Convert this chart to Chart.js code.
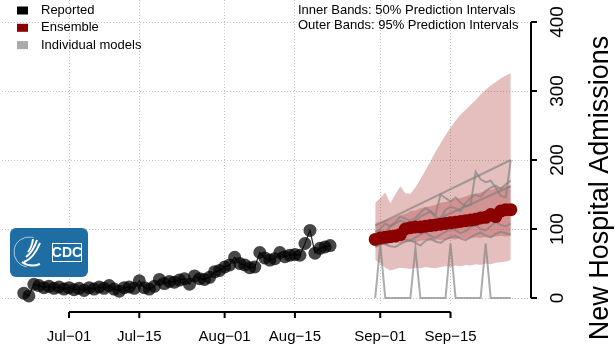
<!DOCTYPE html>
<html>
<head>
<meta charset="utf-8">
<script src="https://cdn.jsdelivr.net/npm/chart.js@4.4.1/dist/chart.umd.min.js"></script>
<style>
  html, body { margin: 0; padding: 0; background: #fff; }
  canvas { display: block; }
</style>
</head>
<body>
<canvas id="chart" width="616" height="351"></canvas>
<script>
var N = null;

// reported new hospital admissions, one value per day from Jun-22
var reportedStart = '2021-06-22';
var reported = [
  7, 3, 20, 18, 15, 17, 14, 16, 13,
  15, 12, 14, 11, 15, 13, 16, 14, 18, 13, 10, 15, 16, 14, 25, 15, 13, 17, 27, 21,
  24, 23, 26, 28, 20, 32, 28, 27, 30, 38, 40,
  45, 48, 59, 50, 48, 44, 45, 66, 58, 55, 57, 66, 60, 62, 63, 62, 79, 98, 65, 72, 74, 76
];

// forecast, one value per day from Aug-31
var forecastStart = '2021-08-31';
var ensemble = [85, 87, 88, 89, 90, 92, 100, 102, 103, 103, 104, 105, 106, 107,
  108, 109, 110, 111, 112, 113, 114, 116, 117, 121, 118, 126, 128, 128];
var lower95 = [55, 50, 44, 40, 42, 44, 43, 42, 44, 43, 45, 44, 43, 45,
  46, 45, 47, 46, 48, 47, 49, 48, 50, 49, 51, 52, 53, 55];
var upper95 = [138, 145, 153, 137, 150, 162, 152, 151, 160, 172, 185, 198, 212, 224,
  236, 247, 257, 266, 273, 280, 287, 295, 302, 308, 313, 318, 322, 326];
var lower50 = [76, 78, 77, 79, 80, 79, 81, 82, 81, 83, 84, 83, 85, 84,
  85, 86, 85, 87, 86, 87, 88, 87, 89, 88, 89, 90, 89, 90];
var upper50 = [108, 111, 113, 114, 118, 120, 122, 126, 127, 130, 132, 133, 135, 138,
  139, 141, 144, 145, 147, 150, 151, 153, 156, 157, 159, 161, 162, 163];

// individual model forecasts
var modelA = [105, N, N, N, N, N, N, N, N, N, N, N, N, N, N, N, N, N, N, N, N, N, N, N, N, N, N, 200];
var modelB = [0, 78, 0, 0, 0, 0, 0, 0, 72, 0, 0, 0, 0, 0, 0, 79, 0, 0, 0, 0, 0, 0, 79, 0, 0, 0, 0, 0];
var modelC = [74, N, N, N, N, N, N, N, N, N, N, N, N, N, N, N, N, N, N, N, N, N, N, N, N, N, N, 162];
var modelD = [96, 100, 108, 104, 110, 118, 115, 112, 116, 124, 130, 126, 120, 150,
  145, 140, 146, 138, 133, 135, 183, 172, 168, 170, 160, 148, 146, 200];
var modelE = [92, 98, 95, 104, 108, 112, 110, 106, 112, 118, 122, 125, 118, 115,
  128, 132, 130, 126, 138, 145, 150, 147, 155, 160, 163, 158, 165, 170];
var modelF = [88, 90, 92, 93, 95, 97, 98, 100, 102, 103, 105, 107, 108, 110,
  112, 113, 115, 117, 118, 120, 122, 124, 125, 127, 129, 130, 132, 134];
var modelG = [80, 84, 82, 86, 90, 88, 85, 83, 88, 92, 95, 90, 87, 92,
  96, 100, 98, 94, 97, 103, 105, 100, 98, 104, 110, 106, 104, 108];
var modelH = [76, 80, 78, 75, 74, 78, 82, 84, 80, 76, 83, 86, 82, 80,
  85, 88, 90, 86, 84, 88, 92, 95, 90, 88, 93, 96, 94, 92];
var models = [modelA, modelB, modelC, modelD, modelE, modelF, modelG, modelH];

var tickDates = ['2021-07-01', '2021-07-15', '2021-08-01', '2021-08-15', '2021-09-01', '2021-09-15'];
var tickLabels = ['Jul\u221201', 'Jul\u221215', 'Aug\u221201', 'Aug\u221215', 'Sep\u221201', 'Sep\u221215'];
var yTicks = [0, 100, 200, 300, 400];

var FONT = '"Liberation Sans", Arial, Helvetica, sans-serif';

function dayNum(s) {
  return (Date.parse(s) - Date.parse('2021-07-01')) / 86400000;
}
function toPoints(start, values) {
  var d0 = dayNum(start);
  return values.map(function (v, i) { return { x: d0 + i, y: v }; });
}
var tickDays = tickDates.map(dayNum);

var datasets = [];
datasets.push({ data: toPoints(forecastStart, lower95), fill: false, borderWidth: 0, borderColor: 'transparent', pointRadius: 0, order: 20 });
datasets.push({ data: toPoints(forecastStart, upper95), fill: '-1', backgroundColor: 'rgba(170,40,40,0.3)', borderWidth: 0, borderColor: 'transparent', pointRadius: 0, order: 19 });
datasets.push({ data: toPoints(forecastStart, lower50), fill: false, borderWidth: 0, borderColor: 'transparent', pointRadius: 0, order: 18 });
datasets.push({ data: toPoints(forecastStart, upper50), fill: '-1', backgroundColor: 'rgba(170,40,40,0.3)', borderWidth: 0, borderColor: 'transparent', pointRadius: 0, order: 17 });
models.forEach(function (m) {
  datasets.push({ data: toPoints(forecastStart, m), fill: false, spanGaps: true, borderColor: 'rgba(128,128,128,0.65)', borderWidth: 2, pointRadius: 0, order: 10 });
});
datasets.push({ data: toPoints(reportedStart, reported), fill: false, borderColor: 'rgba(0,0,0,0.85)', borderWidth: 1.2,
  pointRadius: 6.5, pointBackgroundColor: 'rgba(0,0,0,0.72)', pointBorderWidth: 0, order: 2 });
datasets.push({ data: toPoints(forecastStart, ensemble), fill: false, showLine: false, borderColor: '#8b0000',
  pointRadius: 6.5, pointBackgroundColor: '#8b0000', pointBorderWidth: 0, order: 1 });

// R style axes, legend, notes and logo
var rAxes = {
  id: 'rAxes',
  afterDraw: function (chart) {
    var ctx = chart.ctx, xs = chart.scales.x, ys = chart.scales.y;
    ctx.save();
    ctx.strokeStyle = '#000';
    ctx.fillStyle = '#000';
    ctx.lineWidth = 2;

    // x axis
    var axY = 312;
    ctx.beginPath();
    ctx.moveTo(xs.getPixelForValue(tickDays[0]), axY);
    ctx.lineTo(xs.getPixelForValue(tickDays[tickDays.length - 1]), axY);
    tickDays.forEach(function (d) {
      var px = xs.getPixelForValue(d);
      ctx.moveTo(px, axY);
      ctx.lineTo(px, axY + 6);
    });
    ctx.stroke();
    ctx.font = '15px ' + FONT;
    ctx.textAlign = 'center';
    ctx.textBaseline = 'alphabetic';
    tickDays.forEach(function (d, i) {
      ctx.fillText(tickLabels[i], xs.getPixelForValue(d), 341);
    });

    // y axis on the right
    var axX = 531;
    ctx.beginPath();
    ctx.moveTo(axX, ys.getPixelForValue(yTicks[0]));
    ctx.lineTo(axX, ys.getPixelForValue(yTicks[yTicks.length - 1]));
    yTicks.forEach(function (v) {
      var py = ys.getPixelForValue(v);
      ctx.moveTo(axX, py);
      ctx.lineTo(axX + 6, py);
    });
    ctx.stroke();
    ctx.font = '19px ' + FONT;
    yTicks.forEach(function (v) {
      ctx.save();
      ctx.translate(563, ys.getPixelForValue(v));
      ctx.rotate(-Math.PI / 2);
      ctx.fillText(String(v), 0, 0);
      ctx.restore();
    });
    ctx.save();
    ctx.font = '27px ' + FONT;
    ctx.translate(608, 188);
    ctx.rotate(-Math.PI / 2);
    ctx.fillText('New Hospital Admissions', 0, 0);
    ctx.restore();

    // legend
    var legend = [['Reported', '#000'], ['Ensemble', '#8b0000'], ['Individual models', '#aaaaaa']];
    ctx.font = '13px ' + FONT;
    ctx.textAlign = 'left';
    ctx.textBaseline = 'middle';
    legend.forEach(function (item, i) {
      var cy = 10.5 + i * 17.3;
      ctx.fillStyle = item[1];
      ctx.fillRect(17, cy - 4, 11, 8);
      ctx.fillStyle = '#000';
      ctx.fillText(item[0], 41, cy);
    });
    ctx.fillText('Inner Bands: 50% Prediction Intervals', 298, 10);
    ctx.fillText('Outer Bands: 95% Prediction Intervals', 298, 25);

    // CDC logo
    var lx = 10, ly = 228, lw = 78, lh = 49, r = 6;
    ctx.fillStyle = '#1f6ea3';
    ctx.beginPath();
    ctx.moveTo(lx + r, ly);
    ctx.arcTo(lx + lw, ly, lx + lw, ly + lh, r);
    ctx.arcTo(lx + lw, ly + lh, lx, ly + lh, r);
    ctx.arcTo(lx, ly + lh, lx, ly, r);
    ctx.arcTo(lx, ly, lx + lw, ly, r);
    ctx.closePath();
    ctx.fill();
    ctx.strokeStyle = 'rgba(255,255,255,0.8)';
    ctx.lineWidth = 0.8;
    ctx.beginPath();
    ctx.arc(29, 252, 15, Math.PI * 0.55, Math.PI * 1.6);
    ctx.stroke();
    ctx.strokeStyle = '#fff';
    ctx.lineWidth = 2;
    ctx.beginPath();
    ctx.moveTo(24, 262); ctx.quadraticCurveTo(34, 258, 40, 243);
    ctx.moveTo(26, 257); ctx.quadraticCurveTo(33, 252, 37, 240);
    ctx.moveTo(28, 252); ctx.quadraticCurveTo(32, 247, 33, 239);
    ctx.moveTo(22, 262); ctx.quadraticCurveTo(30, 268, 40, 264);
    ctx.stroke();
    ctx.lineWidth = 1;
    ctx.strokeRect(52.5, 243.5, 29, 18);
    ctx.fillStyle = '#fff';
    ctx.font = 'bold 14px ' + FONT;
    ctx.textAlign = 'center';
    ctx.fillText('CDC', 67, 253);
    ctx.restore();
  }
};

new Chart(document.getElementById('chart'), {
  type: 'line',
  data: { datasets: datasets },
  options: {
    responsive: false,
    animation: false,
    devicePixelRatio: 1,
    layout: { autoPadding: false, padding: { left: 2, right: 85, top: 0, bottom: 46 } },
    plugins: { legend: { display: false }, tooltip: { enabled: false } },
    elements: { line: { tension: 0 } },
    scales: {
      x: {
        type: 'linear',
        min: -13.35,
        max: 92.03,
        afterBuildTicks: function (s) { s.ticks = tickDays.map(function (v) { return { value: v }; }); },
        afterFit: function (s) { s.height = 0; },
        ticks: { display: false },
        grid: { color: '#c4c4c4', lineWidth: 1, drawTicks: false },
        border: { display: false, dash: [1, 2] }
      },
      y: {
        position: 'right',
        min: -10.1,
        max: 431.9,
        afterBuildTicks: function (s) { s.ticks = yTicks.map(function (v) { return { value: v }; }); },
        afterFit: function (s) { s.width = 0; },
        ticks: { display: false },
        grid: { color: '#c4c4c4', lineWidth: 1, drawTicks: false },
        border: { display: false, dash: [1, 2] }
      }
    }
  },
  plugins: [rAxes]
});
</script>
</body>
</html>
